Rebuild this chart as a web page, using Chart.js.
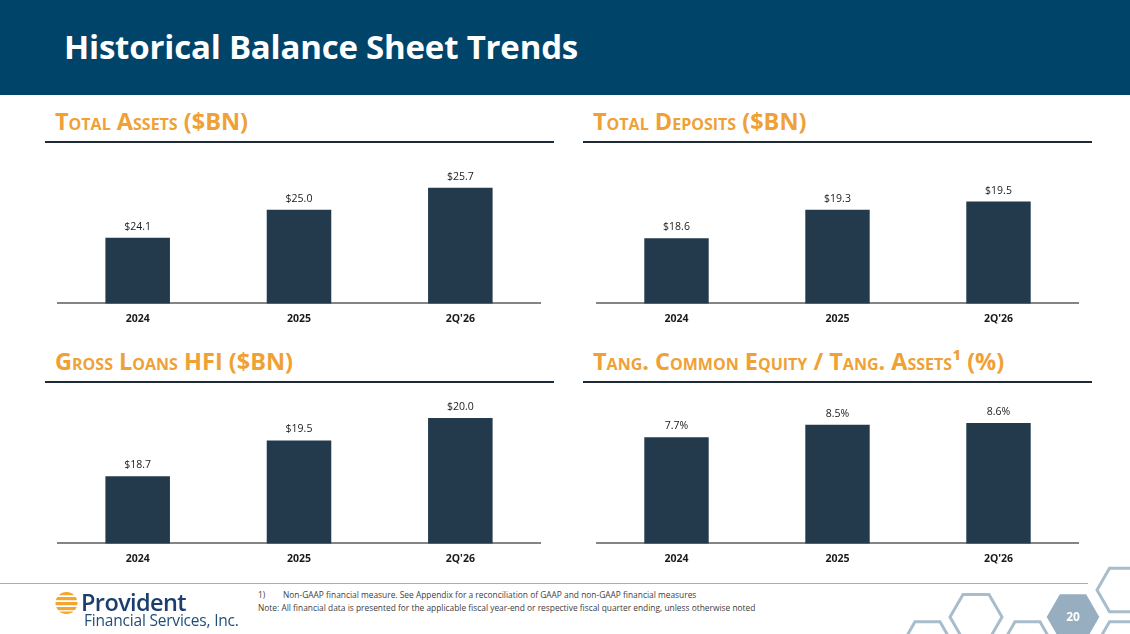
<!DOCTYPE html>
<html>
<head>
<meta charset="utf-8">
<title>Historical Balance Sheet Trends</title>
<script src="https://cdn.jsdelivr.net/npm/chart.js@4.4.1/dist/chart.umd.min.js"></script>
<style>
    html, body { margin: 0; padding: 0; }
    body { width: 1130px; height: 634px; position: relative; overflow: hidden; background: #fff; font-family: "Open Sans", sans-serif; }
    .header { position: absolute; left: 0; top: 0; width: 1130px; height: 95px; background: #01446a; }
    .header h1 { position: absolute; left: 64px; top: 30px; margin: 0; color: #fff; font-size: 33px; font-weight: 700; letter-spacing: -0.2px; white-space: nowrap; line-height: 1; }
    .panel-title { position: absolute; margin: 0; color: #efa136; font-size: 23.5px; font-weight: 700; font-variant: small-caps; white-space: nowrap; line-height: 1; }
    .rule { position: absolute; height: 2px; background: #1e2a36; }
    .chart-box { position: absolute; }
    .foot-line { position: absolute; left: 0; top: 583px; width: 1088px; height: 1px; background: #efa136; }
    .notes { position: absolute; left: 258px; top: 588px; font-size: 8.4px; color: #404040; line-height: 13px; white-space: nowrap; }
    .notes .num { display: inline-block; width: 25px; }
    .logo-name { position: absolute; left: 81px; top: 591px; font-size: 23.5px; font-weight: 600; color: #1b3e6c; letter-spacing: -0.6px; line-height: 1; }
    .logo-sub { position: absolute; left: 84px; top: 613px; font-size: 15.5px; color: #1f4e79; letter-spacing: -0.2px; line-height: 1; white-space: nowrap; }
    svg.deco { position: absolute; left: 0; top: 0; }
</style>
</head>
<body>
<div class="header"><h1>Historical Balance Sheet Trends</h1></div>

<div class="panel-title" style="left:55px; top:110px;">Total Assets ($BN)</div>
<div class="rule" style="left:45px; top:141px; width:509px;"></div>
<div class="panel-title" style="left:593px; top:110px;">Total Deposits ($BN)</div>
<div class="rule" style="left:583px; top:141px; width:509px;"></div>
<div class="panel-title" style="left:55px; top:350px;">Gross Loans HFI ($BN)</div>
<div class="rule" style="left:45px; top:381px; width:509px;"></div>
<div class="panel-title" style="left:593px; top:350px;">Tang. Common Equity / Tang. Assets¹ (%)</div>
<div class="rule" style="left:583px; top:381px; width:509px;"></div>

<div class="chart-box" style="left:57px; top:149px;"><canvas id="chartAssets" width="484" height="185"></canvas></div>
<div class="chart-box" style="left:596px; top:149px;"><canvas id="chartDeposits" width="483" height="185"></canvas></div>
<div class="chart-box" style="left:57px; top:389px;"><canvas id="chartLoans" width="484" height="185"></canvas></div>
<div class="chart-box" style="left:596px; top:389px;"><canvas id="chartTce" width="483" height="185"></canvas></div>

<div class="foot-line"></div>
<div class="notes"><span class="num">1)</span>Non-GAAP financial measure. See Appendix for a reconciliation of GAAP and non-GAAP financial measures<br>Note: All financial data is presented for the applicable fiscal year-end or respective fiscal quarter ending, unless otherwise noted</div>

<svg class="deco" width="1130" height="634">
    <defs><clipPath id="logoClip"><circle cx="66.5" cy="603" r="11"/></clipPath></defs>
    <g clip-path="url(#logoClip)" fill="#f2a62e">
        <rect x="54" y="592" width="25" height="3.2"/>
        <rect x="54" y="597" width="25" height="3.2"/>
        <rect x="54" y="602" width="25" height="3.2"/>
        <rect x="54" y="607" width="25" height="3.2"/>
        <rect x="54" y="611.5" width="25" height="3.2"/>
    </g>
    <g id="hexes"></g>
    <text x="1073" y="618" fill="#fff" font-family="Open Sans" font-weight="700" font-size="12" text-anchor="middle" dominant-baseline="middle">20</text>
</svg>
<div class="logo-name">Provident</div>
<div class="logo-sub">Financial Services, Inc.</div>

<script>
// Dados (em $BN e %)
const periods = ['2024', '2025', "2Q'26"];
const totalAssets = [24.1, 25.0, 25.7];
const totalDeposits = [18.6, 19.3, 19.5];
const grossLoans = [18.7, 19.5, 20.0];
const tceRatio = [7.7, 8.5, 8.6];

// eixo y (não começa em zero no original)
const assetsRange = [22, 26.94];
const depositsRange = [17, 20.79];
const loansRange = [17.2, 20.65];
const tceRange = [1, 10.75];

const BAR_COLOR = '#223a4c';

document.addEventListener('DOMContentLoaded', () => {
    drawHexes();
    renderBarChart('chartAssets', totalAssets, assetsRange, v => '$' + v.toFixed(1));
    renderBarChart('chartDeposits', totalDeposits, depositsRange, v => '$' + v.toFixed(1));
    renderBarChart('chartLoans', grossLoans, loansRange, v => '$' + v.toFixed(1));
    renderBarChart('chartTce', tceRatio, tceRange, v => v.toFixed(1) + '%');
});

// rótulos de valor por cima das barras
function valueLabels(fmt) {
    return {
        id: 'valueLabels',
        afterDatasetsDraw(chart) {
            const ctx = chart.ctx;
            const values = chart.data.datasets[0].data;
            ctx.save();
            ctx.font = '10.5px "Open Sans"';
            ctx.fillStyle = '#1a1a1a';
            ctx.textAlign = 'center';
            ctx.textBaseline = 'middle';
            chart.getDatasetMeta(0).data.forEach((bar, i) => {
                ctx.fillText(fmt(values[i]), bar.x, bar.y - 11);
            });
            ctx.restore();
        }
    };
}

function renderBarChart(id, values, range, fmt) {
    const ctx = document.getElementById(id);
    if (!ctx) return;

    new Chart(ctx, {
        type: 'bar',
        data: {
            labels: periods,
            datasets: [{
                data: values,
                backgroundColor: BAR_COLOR,
                barPercentage: 0.4,
                categoryPercentage: 1.0
            }]
        },
        options: {
            responsive: false,
            animation: false,
            layout: { padding: 0 },
            plugins: {
                legend: { display: false },
                tooltip: { enabled: false }
            },
            scales: {
                x: {
                    grid: { display: false, drawTicks: false },
                    border: { display: true, color: '#858585', width: 2 },
                    ticks: {
                        color: '#1a1a1a',
                        padding: 9,
                        font: { family: 'Open Sans', size: 10.5, weight: 'bold' }
                    }
                },
                y: {
                    display: false,
                    min: range[0],
                    max: range[1]
                }
            }
        },
        plugins: [valueLabels(fmt)]
    });
}

// hexágonos decorativos do rodapé
function drawHexes() {
    const g = document.getElementById('hexes');
    const hexes = [
        [927.5, 643.5, 25, false],
        [976, 617, 26, false],
        [1027.5, 643.5, 25, false],
        [1073, 617, 26.3, true],
        [1122, 590, 25, false],
        [1122, 643.5, 25, false]
    ];
    hexes.forEach(([cx, cy, r, filled]) => {
        const h = r * 0.866;
        const pts = [[cx - r, cy], [cx - r / 2, cy - h], [cx + r / 2, cy - h], [cx + r, cy], [cx + r / 2, cy + h], [cx - r / 2, cy + h]];
        const poly = document.createElementNS('http://www.w3.org/2000/svg', 'polygon');
        poly.setAttribute('points', pts.map(p => p.join(',')).join(' '));
        if (filled) {
            poly.setAttribute('fill', '#96aec0');
        } else {
            poly.setAttribute('fill', 'none');
            poly.setAttribute('stroke', '#a8bdcc');
            poly.setAttribute('stroke-width', '3');
        }
        g.appendChild(poly);
    });
}
</script>
</body>
</html>
